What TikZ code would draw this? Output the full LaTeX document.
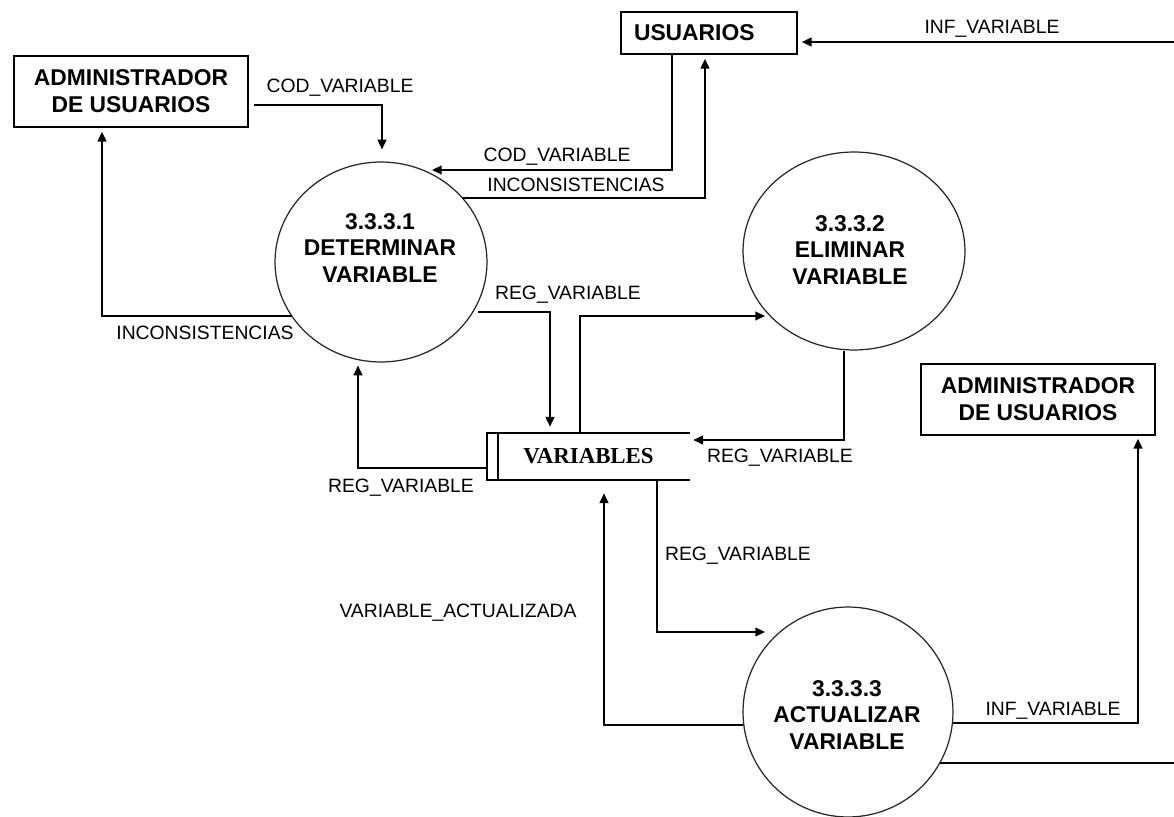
\documentclass[tikz,border=0pt]{standalone}
\usepackage{fontspec}
\setmainfont{Liberation Sans}
\newfontfamily\storefont{Liberation Serif}
\usetikzlibrary{shapes.geometric,arrows.meta,calc}
\begin{document}
\begin{tikzpicture}[x=0.02cm,y=-0.02cm,
  ent/.style={draw,line width=1pt,rectangle,inner sep=0pt,font=\fontsize{13}{15.5}\selectfont\bfseries,align=center},
  proc/.style={draw=black!85,line width=0.7pt,ellipse,inner sep=0pt},
  ptext/.style={font=\fontsize{13}{15}\selectfont\bfseries,align=center,inner sep=0pt},
  flow/.style={line width=0.9pt,-{Triangle[length=5.5pt,width=5pt]}},
  plain/.style={line width=0.9pt},
  lbl/.style={font=\fontsize{11}{13}\selectfont,inner sep=0pt}]
\useasboundingbox[fill=white] (0,0) rectangle (1174,817);
% entities
\node[ent,minimum width=4.68cm,minimum height=1.42cm] (a1) at (131,91.5) {ADMINISTRADOR\\DE USUARIOS};
\node[ent,minimum width=3.52cm,minimum height=0.84cm,text width=3.0cm,align=left] (u) at (709,33) {USUARIOS};
\node[ent,minimum width=4.68cm,minimum height=1.42cm] (a2) at (1038,399.5) {ADMINISTRADOR\\DE USUARIOS};
% processes
\node[proc,minimum width=4.24cm,minimum height=4cm] (p1) at (381,262) {};
\node[ptext] (p1t) at (380,248) {3.3.3.1\\DETERMINAR\\VARIABLE};
\node[proc,minimum width=4.44cm,minimum height=3.96cm] (p2) at (854,251) {};
\node[ptext] (p2t) at (850,250) {3.3.3.2\\ELIMINAR\\VARIABLE};
\node[proc,minimum width=4.2cm,minimum height=4.2cm] (p3) at (848,712) {};
\node[ptext] (p3t) at (847,715) {3.3.3.3\\ACTUALIZAR\\VARIABLE};
% data store
\node[minimum width=4.06cm,minimum height=0.94cm,inner sep=0pt,font=\storefont\bfseries\fontsize{13}{15}\selectfont] (st) at (588.5,456.5) {VARIABLES};
\draw[line width=1pt] (st.north east) -- (st.north west) -- (st.south west) -- (st.south east);
\draw[line width=1pt] ($(st.north west)+(11,0)$) -- ($(st.south west)+(11,0)$);
% flows
\draw[flow] ($(a1.east)+(5,13.5)$) -| ($(p1.north)+(1,-12)$);
\draw[flow] ($(u.south)+(-37,0)$) |- ($(p1)+(51,-92)$);
\draw[flow] ($(p1)+(81,-64)$) -| ($(u.south)+(-4,4)$);
\draw[flow] ($(p1)+(-89,54)$) -| ($(a1.south)+(-29,4)$);
\draw[flow] ($(p1)+(97,50)$) -| ($(st.north)+(-38.5,-6)$);
\draw[flow] ($(st.west)+(0,11.5)$) -| ($(p1.south)+(-23,3)$);
\draw[flow] ($(st.north)+(-8.5,0)$) |- ($(p2)+(-89,65)$);
\draw[flow] ($(p2.south)+(-10,0)$) |- ($(st.east)+(3,-16.5)$);
\draw[flow] ($(st.south)+(68.5,0)$) |- ($(p3)+(-83,-80)$);
\draw[flow] ($(p3)+(-105,13)$) -| ($(st.south)+(15.5,13)$);
\draw[flow] ($(p3)+(105,11)$) -| ($(a2.south)+(100,3)$);
\coordinate (offA) at (1174,763);
\coordinate (offB) at (1174,42);
\draw[plain] ($(p3)+(92,51)$) -- (offA);
\draw[flow] (offB) -- ($(u.east)+(4,9)$);
% labels
\node[lbl] (l1) at (340,88) {COD\_VARIABLE};
\node[lbl] (l2) at (557,157) {COD\_VARIABLE};
\node[lbl] (l3) at (576,185) {INCONSISTENCIAS};
\node[lbl] (l4) at (992,29) {INF\_VARIABLE};
\node[lbl] (l5) at (205,333) {INCONSISTENCIAS};
\node[lbl] (l6) at (568,295) {REG\_VARIABLE};
\node[lbl] (l7) at (401,488) {REG\_VARIABLE};
\node[lbl] (l8) at (780,458) {REG\_VARIABLE};
\node[lbl] (l9) at (738,556) {REG\_VARIABLE};
\node[lbl] (l10) at (458,613) {VARIABLE\_ACTUALIZADA};
\node[lbl] (l11) at (1053,711) {INF\_VARIABLE};
\end{tikzpicture}
\end{document}
